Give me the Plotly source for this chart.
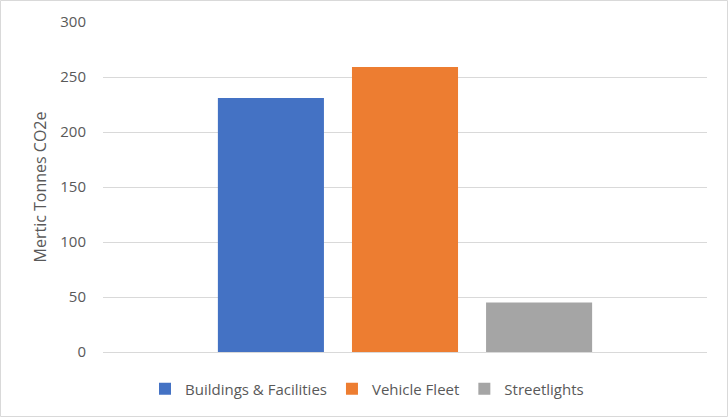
import plotly.graph_objects as go

series_names = ["Buildings & Facilities", "Vehicle Fleet", "Streetlights"]
series_values = [231, 259, 45]
series_colors = ["#4472C4", "#ED7D31", "#A5A5A5"]
category = [""]
y_ticks = [0, 50, 100, 150, 200, 250, 300]

W, H = 728, 417
ml, mr, mt, mb = 103, 21, 22, 65
pw, ph = W - ml - mr, H - mt - mb

fig = go.Figure()
for name, val, col in zip(series_names, series_values, series_colors):
    fig.add_trace(go.Bar(x=category, y=[val], name=name, marker_color=col,
                         marker_line_width=0))

font_family = "Open Sans, Noto Sans, sans-serif"
fig.update_layout(
    width=W, height=H,
    margin=dict(l=ml, r=mr, t=mt, b=mb, pad=0),
    paper_bgcolor="white", plot_bgcolor="white",
    barmode="group", bargap=0.334, bargroupgap=0.209,
    font=dict(family=font_family, size=15, color="#595959"),
    showlegend=True,
    legend=dict(orientation="h", x=(367 - ml) / pw, xanchor="center",
                y=(mt + ph - 389) / ph, yanchor="middle",
                font=dict(size=15, color="#595959"),
                itemwidth=30, traceorder="normal"),
    xaxis=dict(showticklabels=False, showgrid=False, zeroline=False,
               showline=False, fixedrange=True),
    yaxis=dict(range=[0, 300], tickvals=y_ticks, showgrid=True,
               gridcolor="#D9D9D9", gridwidth=1, zeroline=True,
               zerolinecolor="#D9D9D9", zerolinewidth=1, showline=False,
               ticks="", ticklabelstandoff=16,
               tickfont=dict(size=15, color="#595959"),
               title=dict(text="Mertic Tonnes CO2e", standoff=9,
                          font=dict(size=16, color="#595959"))),
    shapes=[dict(type="rect", xref="paper", yref="paper",
                 x0=(0.5 - ml) / pw, x1=(W - 0.5 - ml) / pw,
                 y0=(mt + ph - (H - 0.5)) / ph, y1=(mt + ph - 0.5) / ph,
                 line=dict(color="#D9D9D9", width=1), fillcolor="rgba(0,0,0,0)",
                 layer="below")],
)

fig.write_html("out.html")
